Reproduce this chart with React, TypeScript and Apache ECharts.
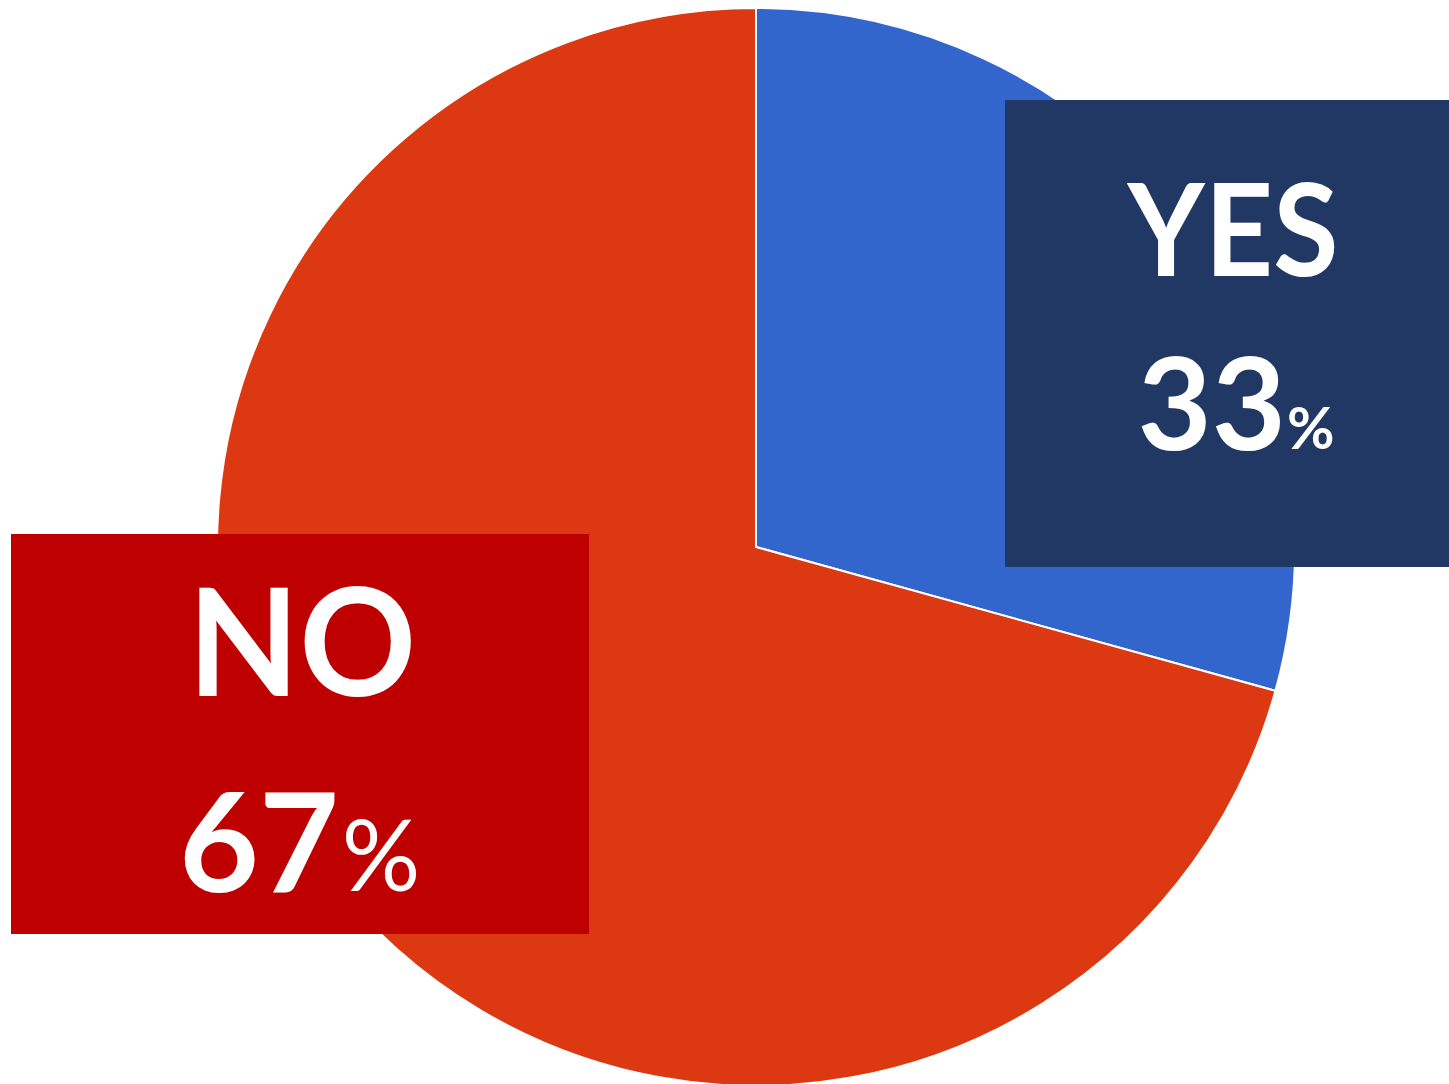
import React, { useEffect, useRef } from "react";
import * as echarts from "echarts";

const categories = ["YES", "NO"];
// slice sizes (blue slice ends ~15.6° below horizontal)
const sliceValues = [29.3, 70.7];
const labelPercents = ["33", "67"];
const sliceColors = ["#3366CC", "#DC3912"];

export default function App() {
  const ref = useRef<HTMLDivElement>(null);
  useEffect(() => {
    if (!ref.current) return;
    const chart = echarts.init(ref.current, null, { renderer: "svg" });
    const font = "Lato";
    chart.setOption({
      animation: false,
      backgroundColor: "#ffffff",
      series: [
        {
          type: "pie",
          center: [756, 547],
          radius: 539,
          startAngle: 90,
          clockwise: true,
          label: { show: false },
          labelLine: { show: false },
          silent: true,
          itemStyle: { borderColor: "#ffffff", borderWidth: 2 },
          data: categories.map((c, i) => ({
            name: c,
            value: sliceValues[i],
            itemStyle: { color: sliceColors[i] },
          })),
        },
      ],
      graphic: [
        { type: "rect", shape: { x: 1005, y: 100, width: 444, height: 467 }, style: { fill: "#213864" }, z: 10 },
        { type: "rect", shape: { x: 11, y: 534, width: 578, height: 400 }, style: { fill: "#BE0000" }, z: 10 },
        {
          type: "text", x: 1233, y: 226, z: 11, scaleX: 0.93,
          style: { text: categories[0], fill: "#fff", font: `bold 128px ${font}`, align: "center", verticalAlign: "middle" },
        },
        {
          type: "text", x: 1286, y: 400, z: 11,
          style: { text: labelPercents[0], fill: "#fff", font: `bold 128px ${font}`, align: "right", verticalAlign: "middle" },
        },
        {
          type: "text", x: 1287, y: 426, z: 11,
          style: { text: "%", fill: "#fff", font: `bold 58px ${font}`, align: "left", verticalAlign: "middle" },
        },
        {
          type: "text", x: 302, y: 638, z: 11, scaleX: 0.965,
          style: { text: categories[1], fill: "#fff", font: `bold 150px ${font}`, align: "center", verticalAlign: "middle" },
        },
        {
          type: "text", x: 259, y: 838, z: 11,
          style: { text: labelPercents[1], fill: "#fff", font: `bold 138px ${font}`, align: "center", verticalAlign: "middle" },
        },
        {
          type: "text", x: 381, y: 853, z: 11,
          style: { text: "%", fill: "#fff", font: `98px ${font}`, align: "center", verticalAlign: "middle" },
        },
      ],
    });
    return () => chart.dispose();
  }, []);
  return (
    <div
      ref={ref}
      style={{ position: "fixed", left: 0, top: 0, width: 1449, height: 1084 }}
    />
  );
}
